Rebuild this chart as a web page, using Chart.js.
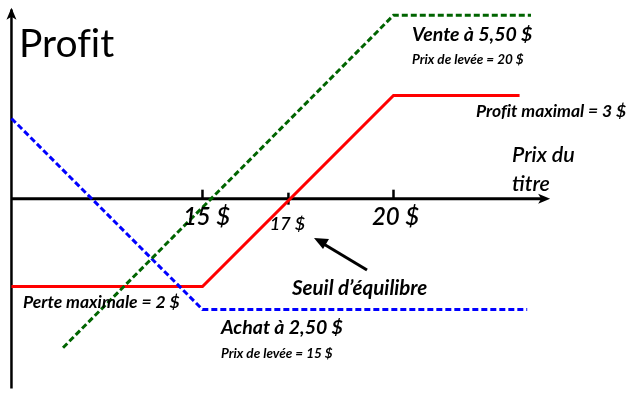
<!DOCTYPE html>
<html>
<head>
<meta charset="utf-8">
<script src="https://cdn.jsdelivr.net/npm/chart.js@4"></script>
<style>
  body { margin: 0; background: #fff; }
  #wrap { width: 638px; height: 405px; }
</style>
</head>
<body>
<div id="wrap"><canvas id="chart" width="638" height="405"></canvas></div>
<script>
// values (price on x, profit on y, schematic units)
const redX = [10, 15, 20, 23.3];
const redY = [-2.3, -2.3, 2.7, 2.7];
const blueX = [10, 15, 23.5];
const blueY = [2.1, -2.9, -2.9];
const greenX = [11.35, 20, 23.6];
const greenY = [-3.9, 4.8, 4.8];

const tickValues = [15, 17.25, 20];
const tickLabels = ['15 $', '17 $', '20 $'];

function pts(xs, ys) {
    return xs.map((x, i) => ({ x: x, y: ys[i] }));
}

// draw the hand-made axes with arrows and tick marks
const axesPlugin = {
    id: 'axes',
    beforeDatasetsDraw(chart) {
        const ctx = chart.ctx;
        const xs = chart.scales.x;
        const ys = chart.scales.y;
        const x0 = xs.getPixelForValue(10);
        const y0 = ys.getPixelForValue(0);
        const xEnd = xs.getPixelForValue(24.1);
        ctx.save();
        ctx.strokeStyle = '#000';
        ctx.fillStyle = '#000';
        ctx.lineWidth = 3;
        ctx.beginPath();
        ctx.moveTo(x0, y0);
        ctx.lineTo(xEnd - 6, y0);
        ctx.stroke();
        ctx.lineWidth = 2.5;
        ctx.beginPath();
        ctx.moveTo(x0, ys.getPixelForValue(-4.97));
        ctx.lineTo(x0, ys.getPixelForValue(4.95));
        ctx.stroke();
        // arrow heads
        ctx.beginPath();
        ctx.moveTo(xEnd, y0);
        ctx.lineTo(xEnd - 12, y0 - 5);
        ctx.lineTo(xEnd - 9, y0);
        ctx.lineTo(xEnd - 12, y0 + 5);
        ctx.closePath();
        ctx.fill();
        const yTop = ys.getPixelForValue(5.0);
        ctx.beginPath();
        ctx.moveTo(x0, yTop);
        ctx.lineTo(x0 - 5, yTop + 12);
        ctx.lineTo(x0, yTop + 9);
        ctx.lineTo(x0 + 5, yTop + 12);
        ctx.closePath();
        ctx.fill();
        // tick marks
        ctx.lineWidth = 2.5;
        tickValues.forEach((v, i) => {
            const px = xs.getPixelForValue(v);
            ctx.beginPath();
            if (i === 1) {
                ctx.moveTo(px, y0 - 6);
                ctx.lineTo(px, y0 + 6);
            } else {
                ctx.moveTo(px, y0 - 9);
                ctx.lineTo(px, y0);
            }
            ctx.stroke();
        });
        ctx.restore();
    },
    afterDraw(chart) {
        const ctx = chart.ctx;
        const xs = chart.scales.x;
        ctx.save();
        ctx.fillStyle = '#000';
        ctx.textBaseline = 'alphabetic';
        ctx.textAlign = 'left';

        ctx.font = '39px Lato';
        ctx.fillText('Prof\u200Cit', 19, 57);

        const bi = s => 'italic bold ' + s + 'px Lato';
        ctx.font = bi(19.5);
        ctx.fillText('Vente à 5,50 $', 412, 41);
        ctx.fillText('Achat à 2,50 $', 221, 334);
        ctx.font = bi(13.5);
        ctx.fillText('Prix de levée = 20 $', 412, 64);
        ctx.fillText('Prix de levée = 15 $', 221, 358);
        ctx.font = bi(17.5);
        ctx.fillText('Prof\u200Cit maximal = 3 $', 476, 117);
        ctx.fillText('Perte maximale = 2 $', 23, 308);
        ctx.font = 'italic 600 21.5px Lato';
        ctx.fillText('Prix du', 512, 162);
        ctx.fillText('titre', 512, 191);
        ctx.font = 'italic bold 20.5px Lato';
        ctx.fillText('Seuil d\u2019équilibre', 292, 295);

        // price tick labels
        ctx.textAlign = 'center';
        ctx.font = 'italic 600 24px Lato';
        ctx.fillText(tickLabels[0], xs.getPixelForValue(tickValues[0]) + 4, 225);
        ctx.fillText(tickLabels[2], xs.getPixelForValue(tickValues[2]) + 2, 225);
        ctx.font = 'italic 600 18px Lato';
        ctx.fillText(tickLabels[1], xs.getPixelForValue(tickValues[1]) - 1, 230);

        // arrow pointing at the break-even
        ctx.strokeStyle = '#000';
        ctx.lineWidth = 3;
        ctx.beginPath();
        ctx.moveTo(367, 270);
        ctx.lineTo(322, 243);
        ctx.stroke();
        ctx.beginPath();
        ctx.moveTo(314, 238);
        ctx.lineTo(329, 239);
        ctx.lineTo(323, 249);
        ctx.closePath();
        ctx.fill();
        ctx.restore();
    }
};

new Chart(document.getElementById('chart'), {
    type: 'line',
    data: {
        datasets: [
            {
                data: pts(greenX, greenY),
                borderColor: '#006400',
                borderWidth: 3,
                borderDash: [6, 3],
                pointRadius: 0
            },
            {
                data: pts(blueX, blueY),
                borderColor: '#0000ff',
                borderWidth: 3,
                borderDash: [6, 3],
                pointRadius: 0
            },
            {
                data: pts(redX, redY),
                borderColor: '#ff0000',
                borderWidth: 3,
                pointRadius: 0
            }
        ]
    },
    options: {
        responsive: false,
        animation: false,
        layout: { padding: 0 },
        plugins: {
            legend: { display: false },
            tooltip: { enabled: false }
        },
        scales: {
            x: { type: 'linear', min: 9.7, max: 26.4, display: false },
            y: { min: -5.4, max: 5.2, display: false }
        }
    },
    plugins: [axesPlugin]
});
</script>
</body>
</html>
